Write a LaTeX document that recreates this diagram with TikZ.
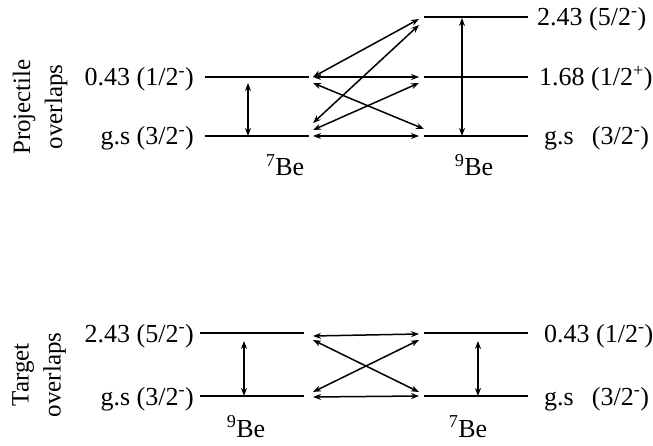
\documentclass[tikz,border=0pt]{standalone}
\usepackage{fontspec}
\setmainfont{Liberation Serif}
\usetikzlibrary{arrows.meta}
\begin{document}
\begin{tikzpicture}[x=1pt,y=-1pt,
  level/.style={line width=1.9pt},
  trans/.style={line width=1.5pt,{Stealth[length=8pt,width=6pt]}-{Stealth[length=8pt,width=6pt]}},
  lab/.style={font=\fontsize{26}{31}\selectfont,inner sep=0pt},
  side/.style={font=\fontsize{25}{32}\selectfont,rotate=90,align=center,inner sep=0pt}]
\useasboundingbox (0,0) rectangle (653,446);
% ---------- Projectile panel ----------
\coordinate (pL1a) at (205,77);  \coordinate (pL1b) at (309,77);
\coordinate (pL0a) at (205,136); \coordinate (pL0b) at (309,136);
\coordinate (pR2a) at (424,17);  \coordinate (pR2b) at (528,17);
\coordinate (pR1a) at (424,77);  \coordinate (pR1b) at (528,77);
\coordinate (pR0a) at (424,136); \coordinate (pR0b) at (528,136);
\draw[level] (pL1a) -- (pL1b);
\draw[level] (pL0a) -- (pL0b);
\draw[level] (pR2a) -- (pR2b);
\draw[level] (pR1a) -- (pR1b);
\draw[level] (pR0a) -- (pR0b);
\node[lab,anchor=base east] (tL1) at (194,86) {0.43 (1/2\textsuperscript{-})};
\node[lab,anchor=base east] (tL0) at (194,145) {g.s (3/2\textsuperscript{-})};
\node[lab,anchor=base west] (tR2) at (537,26) {2.43 (5/2\textsuperscript{-})};
\node[lab,anchor=base west] (tR1) at (539,86) {1.68 (1/2\textsuperscript{+})};
\node[lab,anchor=base west] (tR0) at (544,145) {g.s\hspace{0.45em} (3/2\textsuperscript{-})};
\node[lab,anchor=base] (n7a) at (285,176) {\textsuperscript{7}Be};
\node[lab,anchor=base] (n9a) at (474,176) {\textsuperscript{9}Be};
\node[side] (sp) at (40,107) {Projectile\\overlaps};
% vertical transitions
\coordinate (pv1t) at (248,83);  \coordinate (pv1b) at (248,136);
\coordinate (pv2t) at (462,18);  \coordinate (pv2b) at (462,136);
\draw[trans] (pv1t) -- (pv1b);
\draw[trans] (pv2t) -- (pv2b);
% cross transitions
\coordinate (a1) at (313,77);  \coordinate (b1) at (419,19);
\coordinate (a2) at (313,77);  \coordinate (b2) at (419,77);
\coordinate (a3) at (313,83);  \coordinate (b3) at (424,129);
\coordinate (a4) at (313,123); \coordinate (b4) at (419,25);
\coordinate (a5) at (313,130); \coordinate (b5) at (419,83);
\coordinate (a6) at (313,136); \coordinate (b6) at (419,136);
\draw[trans] (a1) -- (b1);
\draw[trans] (a2) -- (b2);
\draw[trans] (a3) -- (b3);
\draw[trans] (a4) -- (b4);
\draw[trans] (a5) -- (b5);
\draw[trans] (a6) -- (b6);
% ---------- Target panel ----------
\coordinate (tLa1) at (200,333); \coordinate (tLb1) at (304,333);
\coordinate (tLa0) at (200,396); \coordinate (tLb0) at (304,396);
\coordinate (tRa1) at (424,333); \coordinate (tRb1) at (528,333);
\coordinate (tRa0) at (424,396); \coordinate (tRb0) at (528,396);
\draw[level] (tLa1) -- (tLb1);
\draw[level] (tLa0) -- (tLb0);
\draw[level] (tRa1) -- (tRb1);
\draw[level] (tRa0) -- (tRb0);
\node[lab,anchor=base east] (uL1) at (194,342) {2.43 (5/2\textsuperscript{-})};
\node[lab,anchor=base east] (uL0) at (194,405) {g.s (3/2\textsuperscript{-})};
\node[lab,anchor=base west] (uR1) at (544,342) {0.43 (1/2\textsuperscript{-})};
\node[lab,anchor=base west] (uR0) at (544,405) {g.s\hspace{0.45em} (3/2\textsuperscript{-})};
\node[lab,anchor=base] (n9b) at (246,437) {\textsuperscript{9}Be};
\node[lab,anchor=base] (n7b) at (468,437) {\textsuperscript{7}Be};
\node[side] (st) at (39,375) {Target\\overlaps};
\coordinate (tv1t) at (244,341); \coordinate (tv1b) at (244,396);
\coordinate (tv2t) at (478,341); \coordinate (tv2b) at (478,396);
\draw[trans] (tv1t) -- (tv1b);
\draw[trans] (tv2t) -- (tv2b);
\coordinate (c1) at (313,336); \coordinate (d1) at (419,334);
\coordinate (c2) at (313,397); \coordinate (d2) at (419,396);
\coordinate (c3) at (313,340); \coordinate (d3) at (419,392);
\coordinate (c4) at (313,392); \coordinate (d4) at (419,340);
\draw[trans] (c1) -- (d1);
\draw[trans] (c2) -- (d2);
\draw[trans] (c3) -- (d3);
\draw[trans] (c4) -- (d4);
\end{tikzpicture}
\end{document}
